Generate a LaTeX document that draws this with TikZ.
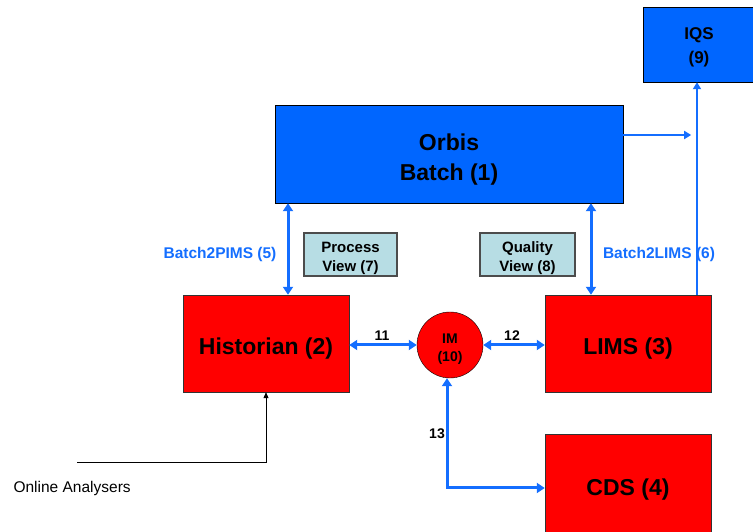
\documentclass[tikz,border=0pt]{standalone}
\usepackage{fontspec}
\setmainfont{Liberation Sans}
\usepackage{tikz}
\usetikzlibrary{positioning,arrows.meta}

\definecolor{boxblue}{RGB}{0,102,255}
\definecolor{linkblue}{RGB}{20,110,255}
\definecolor{viewfill}{RGB}{183,221,228}

\begin{document}
\begin{tikzpicture}
    [ x = 1pt, y = 1pt
    , bluebox/.style =
      { draw, fill=boxblue, inner sep=0pt, align=center, font=\bfseries }
    , redbox/.style =
      { draw=black!80, fill=red, inner sep=0pt, align=center, font=\bfseries\fontsize{23}{28}\selectfont
      , minimum width=166pt, minimum height=97pt, text height=27pt }
    , viewbox/.style =
      { draw=black!70, line width=1.2pt, fill=viewfill, inner sep=0pt, align=center
      , font=\bfseries\fontsize{15}{19}\selectfont, minimum height=43pt, text height=38pt }
    , link/.style =
      { draw=linkblue, line width=3pt, {Triangle[length=8pt,width=10pt]}-{Triangle[length=8pt,width=10pt]} }
    , oneway/.style =
      { draw=linkblue, line width=2pt, -{Triangle[length=7pt,width=8pt]} }
    , linklabel/.style =
      { text=linkblue, font=\bfseries\fontsize{15.5}{18}\selectfont }
    , numlabel/.style =
      { font=\bfseries\fontsize{14}{16}\selectfont }
    ]
    \useasboundingbox (0,0) rectangle (753,532);

    \node [bluebox, minimum width=112pt, minimum height=75pt, text height=42.5pt
      , font=\bfseries\fontsize{17}{24}\selectfont] (iqs) at (699,487.5) {IQS\\(9)};
    \node [bluebox, minimum width=348pt, minimum height=98pt, text height=57pt
      , font=\bfseries\fontsize{23}{30}\selectfont] (orbis) at (449,378) {Orbis\\Batch (1)};
    \node [redbox] (hist) at (266,188.5) {Historian (2)};
    \node [redbox] (lims) at (628,188.5) {LIMS (3)};
    \node [redbox, minimum height=100pt] (cds) at (628,48) {CDS (4)};
    \node [circle, draw, fill=red, minimum size=66pt, inner sep=0pt, align=center, text height=36pt
      , font=\bfseries\fontsize{14}{18}\selectfont] (im) at (450,187) {IM\\(10)};
    \node [viewbox, minimum width=93pt] (pview) at (350.5,277.5) {Process\\View (7)};
    \node [viewbox, minimum width=95pt] (qview) at (527.5,277.5) {Quality\\View (8)};

    \draw [link] ([xshift=22pt]hist.north) -- ([xshift=22pt]hist.north |- orbis.south);
    \draw [link] ([xshift=-37pt]lims.north) -- ([xshift=-37pt]lims.north |- orbis.south);
    \draw [oneway] ([xshift=69pt]lims.north) -- ([xshift=69pt]lims.north |- iqs.south);
    \draw [oneway] ([yshift=19pt]orbis.east) -- ([yshift=19pt,xshift=68pt]orbis.east);
    \draw [link] (im.west -| hist.east) -- (im.west);
    \draw [link] (im.east) -- (im.east -| lims.west);
    \draw [link] ([xshift=-3pt]im.south) |- ([yshift=-4pt]cds.west);

    \node [linklabel] (b2p) at (220,278) {Batch2PIMS (5)};
    \node [linklabel] (b2l) at (659,278) {Batch2LIMS (6)};
    \node [numlabel] (n11) at (382,196) {11};
    \node [numlabel] (n12) at (512,196) {12};
    \node [numlabel] (n13) at (437,98) {13};

    \coordinate (feed) at (77,70);
    \draw [-{Triangle[length=6pt,width=5pt]}, line width=0.8pt] (feed) -| (hist.south);
    \node [anchor=west, font=\fontsize{15.5}{18}\selectfont] (online) at (10,44) {Online Analysers};
  \end{tikzpicture}
\end{document}
